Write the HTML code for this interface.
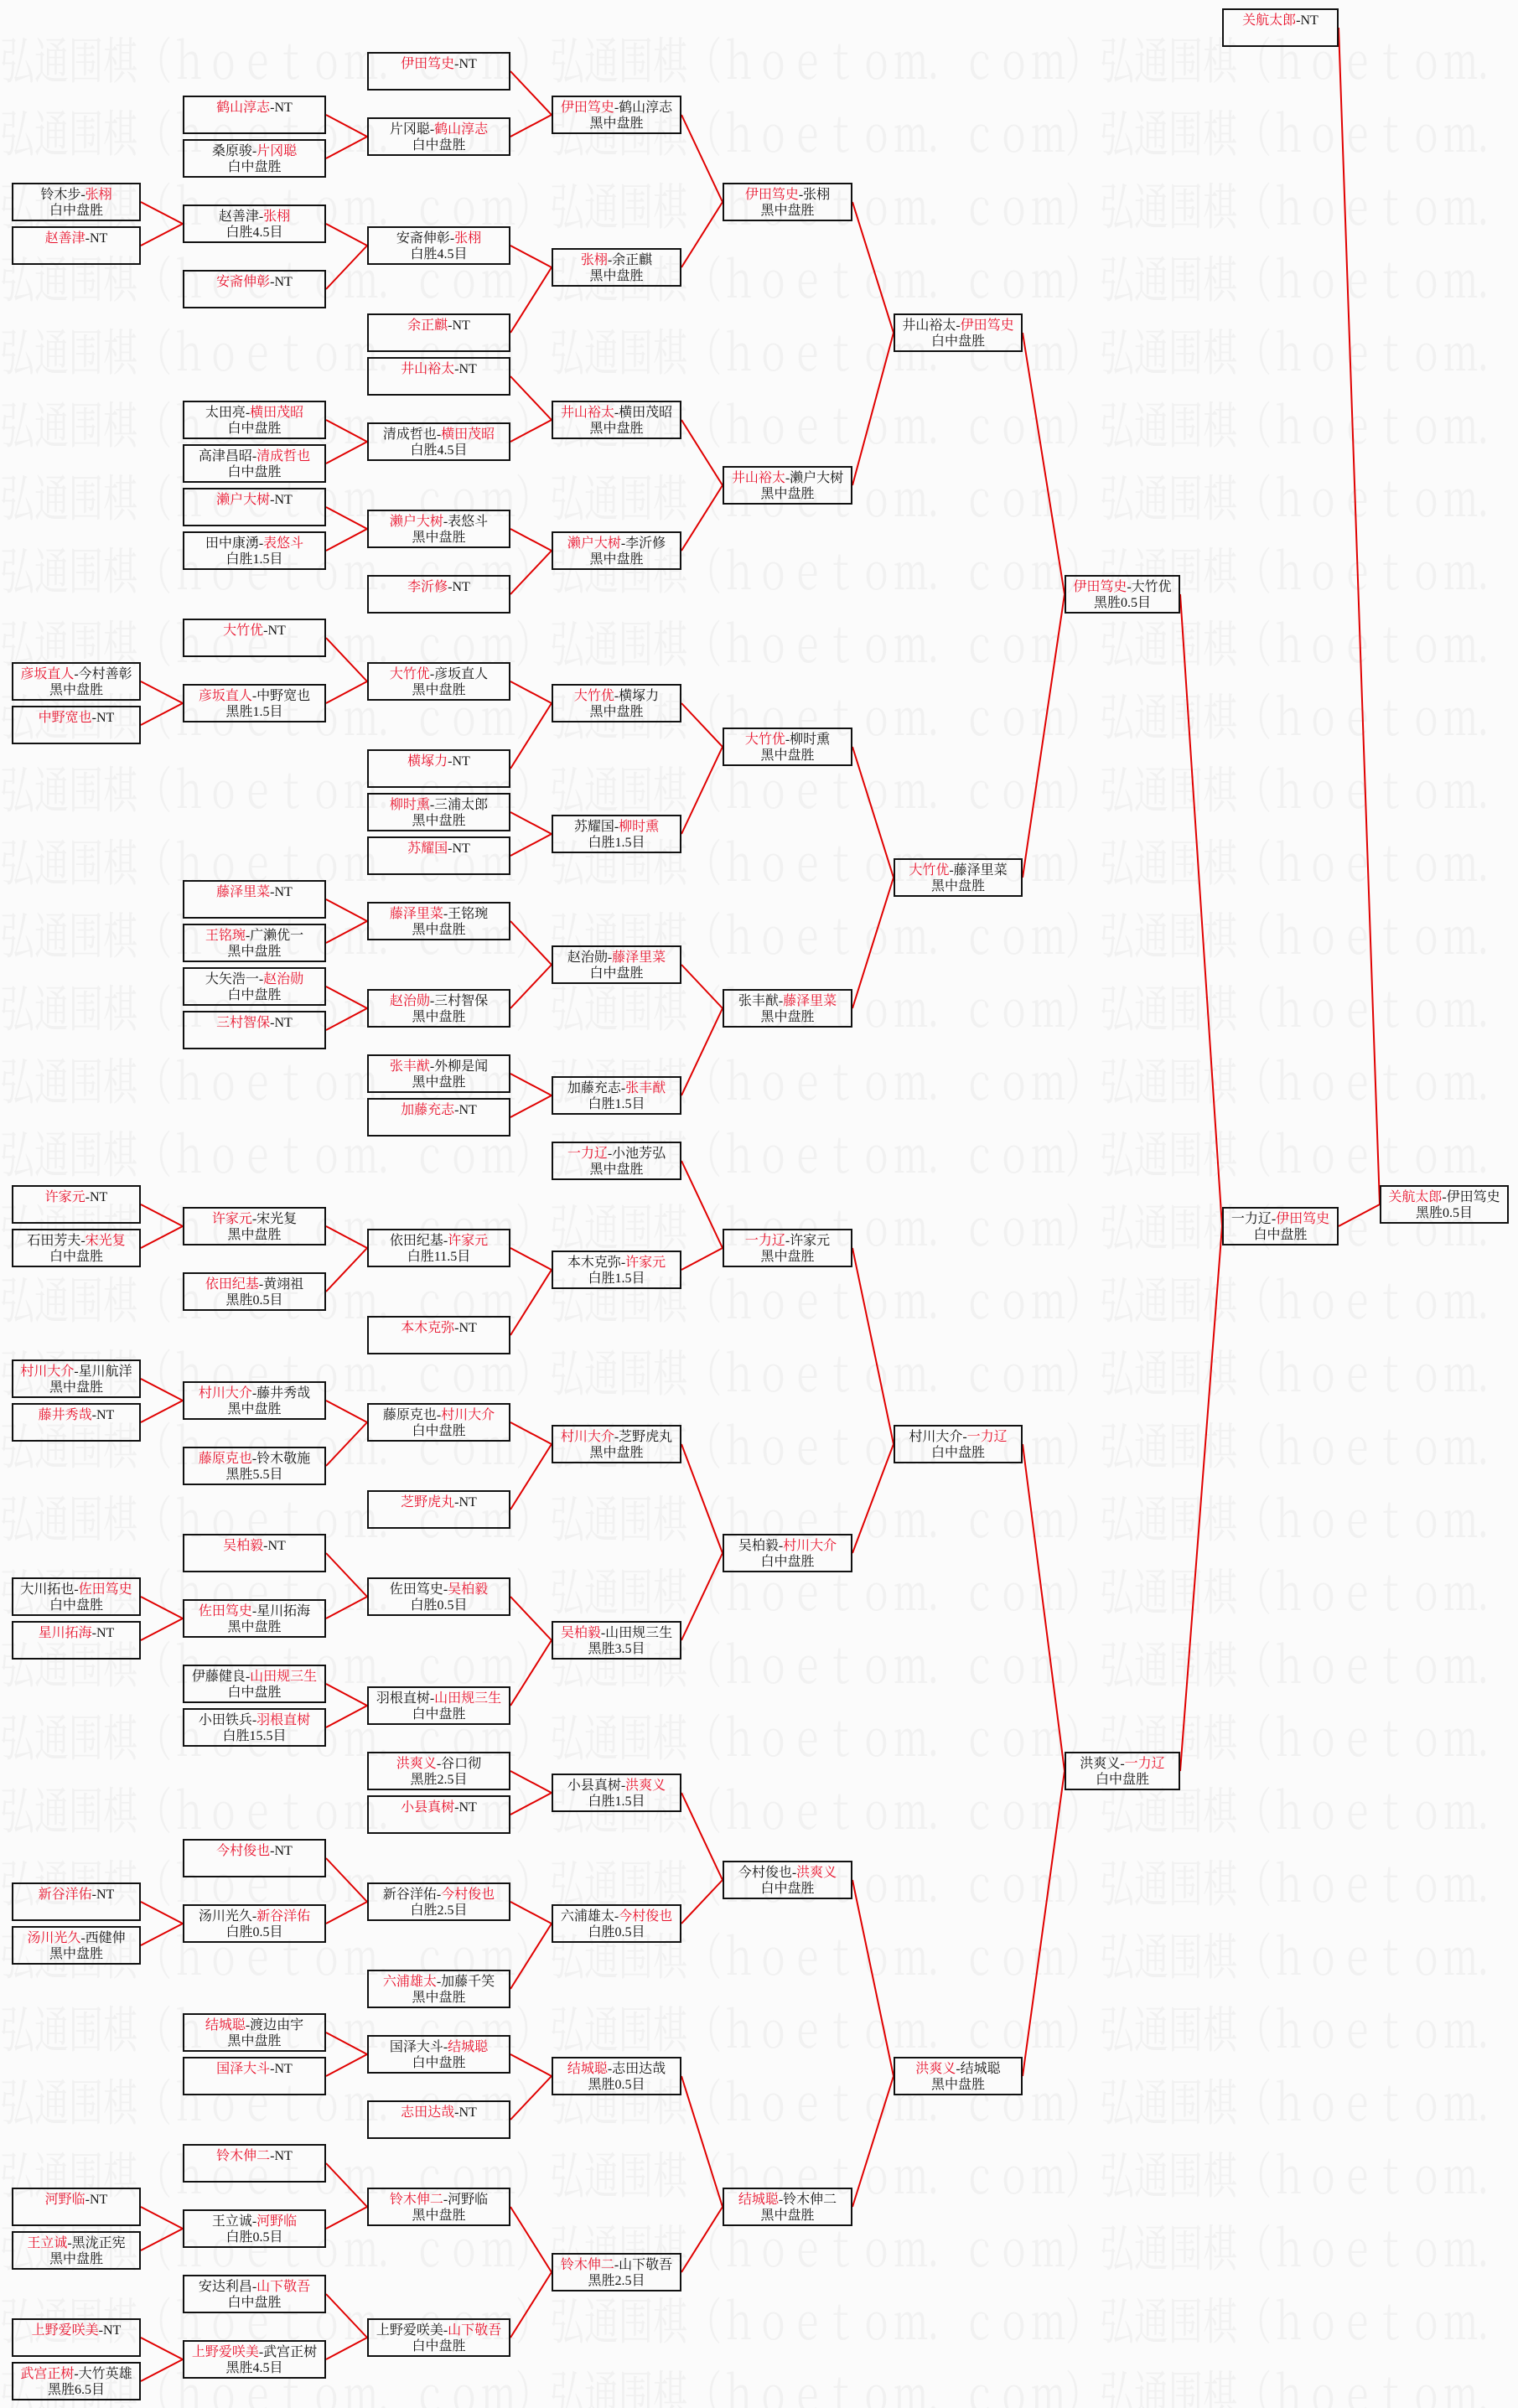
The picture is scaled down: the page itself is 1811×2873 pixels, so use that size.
<!DOCTYPE html>
<html><head><meta charset="utf-8">
<style>
html,body{margin:0;padding:0;}
body{width:1811px;height:2873px;position:relative;background:#fbfbfb;overflow:hidden;font-family:"Liberation Serif","Noto Serif CJK SC","Noto Sans CJK SC",serif;}
.wmw{position:absolute;left:0;top:0;width:1811px;height:2873px;overflow:hidden;}
.wm{position:absolute;left:0;top:26px;width:2400px;color:#f1f1f1;font-size:41px;line-height:60px;white-space:pre;transform-origin:0 0;transform:scaleY(1.45);font-family:"Noto Serif CJK SC","Liberation Serif",serif;}
.b{position:absolute;height:46px;box-sizing:border-box;border:2px solid #111;text-align:center;font-size:16px;line-height:19px;padding-top:3px;color:#111;white-space:nowrap;overflow:hidden;}
.r{color:#e8102a;}
.c0{left:14px;width:154px}.c1{left:218px;width:171px}.c2{left:438px;width:171px}
.c3{left:658px;width:155px}.c4{left:862px;width:155px}.c5{left:1066px;width:154px}
.c6{left:1270px;width:138px}.c7{left:1458px;width:139px}.c8{left:1646px;width:154px}
svg{position:absolute;left:0;top:0;}
</style></head><body>
<div class="wmw"><div class="wm">弘通围棋（ｈｏｅｔｏｍ．ｃｏｍ）弘通围棋（ｈｏｅｔｏｍ．ｃｏｍ）弘通围棋（ｈｏｅｔｏｍ．ｃｏｍ）
弘通围棋（ｈｏｅｔｏｍ．ｃｏｍ）弘通围棋（ｈｏｅｔｏｍ．ｃｏｍ）弘通围棋（ｈｏｅｔｏｍ．ｃｏｍ）
弘通围棋（ｈｏｅｔｏｍ．ｃｏｍ）弘通围棋（ｈｏｅｔｏｍ．ｃｏｍ）弘通围棋（ｈｏｅｔｏｍ．ｃｏｍ）
弘通围棋（ｈｏｅｔｏｍ．ｃｏｍ）弘通围棋（ｈｏｅｔｏｍ．ｃｏｍ）弘通围棋（ｈｏｅｔｏｍ．ｃｏｍ）
弘通围棋（ｈｏｅｔｏｍ．ｃｏｍ）弘通围棋（ｈｏｅｔｏｍ．ｃｏｍ）弘通围棋（ｈｏｅｔｏｍ．ｃｏｍ）
弘通围棋（ｈｏｅｔｏｍ．ｃｏｍ）弘通围棋（ｈｏｅｔｏｍ．ｃｏｍ）弘通围棋（ｈｏｅｔｏｍ．ｃｏｍ）
弘通围棋（ｈｏｅｔｏｍ．ｃｏｍ）弘通围棋（ｈｏｅｔｏｍ．ｃｏｍ）弘通围棋（ｈｏｅｔｏｍ．ｃｏｍ）
弘通围棋（ｈｏｅｔｏｍ．ｃｏｍ）弘通围棋（ｈｏｅｔｏｍ．ｃｏｍ）弘通围棋（ｈｏｅｔｏｍ．ｃｏｍ）
弘通围棋（ｈｏｅｔｏｍ．ｃｏｍ）弘通围棋（ｈｏｅｔｏｍ．ｃｏｍ）弘通围棋（ｈｏｅｔｏｍ．ｃｏｍ）
弘通围棋（ｈｏｅｔｏｍ．ｃｏｍ）弘通围棋（ｈｏｅｔｏｍ．ｃｏｍ）弘通围棋（ｈｏｅｔｏｍ．ｃｏｍ）
弘通围棋（ｈｏｅｔｏｍ．ｃｏｍ）弘通围棋（ｈｏｅｔｏｍ．ｃｏｍ）弘通围棋（ｈｏｅｔｏｍ．ｃｏｍ）
弘通围棋（ｈｏｅｔｏｍ．ｃｏｍ）弘通围棋（ｈｏｅｔｏｍ．ｃｏｍ）弘通围棋（ｈｏｅｔｏｍ．ｃｏｍ）
弘通围棋（ｈｏｅｔｏｍ．ｃｏｍ）弘通围棋（ｈｏｅｔｏｍ．ｃｏｍ）弘通围棋（ｈｏｅｔｏｍ．ｃｏｍ）
弘通围棋（ｈｏｅｔｏｍ．ｃｏｍ）弘通围棋（ｈｏｅｔｏｍ．ｃｏｍ）弘通围棋（ｈｏｅｔｏｍ．ｃｏｍ）
弘通围棋（ｈｏｅｔｏｍ．ｃｏｍ）弘通围棋（ｈｏｅｔｏｍ．ｃｏｍ）弘通围棋（ｈｏｅｔｏｍ．ｃｏｍ）
弘通围棋（ｈｏｅｔｏｍ．ｃｏｍ）弘通围棋（ｈｏｅｔｏｍ．ｃｏｍ）弘通围棋（ｈｏｅｔｏｍ．ｃｏｍ）
弘通围棋（ｈｏｅｔｏｍ．ｃｏｍ）弘通围棋（ｈｏｅｔｏｍ．ｃｏｍ）弘通围棋（ｈｏｅｔｏｍ．ｃｏｍ）
弘通围棋（ｈｏｅｔｏｍ．ｃｏｍ）弘通围棋（ｈｏｅｔｏｍ．ｃｏｍ）弘通围棋（ｈｏｅｔｏｍ．ｃｏｍ）
弘通围棋（ｈｏｅｔｏｍ．ｃｏｍ）弘通围棋（ｈｏｅｔｏｍ．ｃｏｍ）弘通围棋（ｈｏｅｔｏｍ．ｃｏｍ）
弘通围棋（ｈｏｅｔｏｍ．ｃｏｍ）弘通围棋（ｈｏｅｔｏｍ．ｃｏｍ）弘通围棋（ｈｏｅｔｏｍ．ｃｏｍ）
弘通围棋（ｈｏｅｔｏｍ．ｃｏｍ）弘通围棋（ｈｏｅｔｏｍ．ｃｏｍ）弘通围棋（ｈｏｅｔｏｍ．ｃｏｍ）
弘通围棋（ｈｏｅｔｏｍ．ｃｏｍ）弘通围棋（ｈｏｅｔｏｍ．ｃｏｍ）弘通围棋（ｈｏｅｔｏｍ．ｃｏｍ）
弘通围棋（ｈｏｅｔｏｍ．ｃｏｍ）弘通围棋（ｈｏｅｔｏｍ．ｃｏｍ）弘通围棋（ｈｏｅｔｏｍ．ｃｏｍ）
弘通围棋（ｈｏｅｔｏｍ．ｃｏｍ）弘通围棋（ｈｏｅｔｏｍ．ｃｏｍ）弘通围棋（ｈｏｅｔｏｍ．ｃｏｍ）
弘通围棋（ｈｏｅｔｏｍ．ｃｏｍ）弘通围棋（ｈｏｅｔｏｍ．ｃｏｍ）弘通围棋（ｈｏｅｔｏｍ．ｃｏｍ）
弘通围棋（ｈｏｅｔｏｍ．ｃｏｍ）弘通围棋（ｈｏｅｔｏｍ．ｃｏｍ）弘通围棋（ｈｏｅｔｏｍ．ｃｏｍ）
弘通围棋（ｈｏｅｔｏｍ．ｃｏｍ）弘通围棋（ｈｏｅｔｏｍ．ｃｏｍ）弘通围棋（ｈｏｅｔｏｍ．ｃｏｍ）
弘通围棋（ｈｏｅｔｏｍ．ｃｏｍ）弘通围棋（ｈｏｅｔｏｍ．ｃｏｍ）弘通围棋（ｈｏｅｔｏｍ．ｃｏｍ）
弘通围棋（ｈｏｅｔｏｍ．ｃｏｍ）弘通围棋（ｈｏｅｔｏｍ．ｃｏｍ）弘通围棋（ｈｏｅｔｏｍ．ｃｏｍ）
弘通围棋（ｈｏｅｔｏｍ．ｃｏｍ）弘通围棋（ｈｏｅｔｏｍ．ｃｏｍ）弘通围棋（ｈｏｅｔｏｍ．ｃｏｍ）
弘通围棋（ｈｏｅｔｏｍ．ｃｏｍ）弘通围棋（ｈｏｅｔｏｍ．ｃｏｍ）弘通围棋（ｈｏｅｔｏｍ．ｃｏｍ）
弘通围棋（ｈｏｅｔｏｍ．ｃｏｍ）弘通围棋（ｈｏｅｔｏｍ．ｃｏｍ）弘通围棋（ｈｏｅｔｏｍ．ｃｏｍ）
弘通围棋（ｈｏｅｔｏｍ．ｃｏｍ）弘通围棋（ｈｏｅｔｏｍ．ｃｏｍ）弘通围棋（ｈｏｅｔｏｍ．ｃｏｍ）</div></div>

<svg width="1811" height="2873" viewBox="0 0 1811 2873">
<g stroke="#e00000" stroke-width="2" fill="none">
<path d="M168 241L218 267M168 293L218 267M168 813L218 839M168 865L218 839M168 1437L218 1463M168 1489L218 1463M168 1645L218 1671M168 1697L218 1671M168 1905L218 1931M168 1957L218 1931M168 2269L218 2295M168 2321L218 2295M168 2633L218 2659M168 2685L218 2659M168 2789L218 2815M168 2841L218 2815"/>
<path d="M389 137L438 163M389 189L438 163M389 267L438 293M389 345L438 293M389 501L438 527M389 553L438 527M389 605L438 631M389 657L438 631M389 761L438 813M389 839L438 813M389 1073L438 1099M389 1125L438 1099M389 1177L438 1203M389 1229L438 1203M389 1463L438 1489M389 1541L438 1489M389 1671L438 1697M389 1749L438 1697M389 1853L438 1905M389 1931L438 1905M389 2009L438 2035M389 2061L438 2035M389 2217L438 2269M389 2295L438 2269M389 2425L438 2451M389 2477L438 2451M389 2581L438 2633M389 2659L438 2633M389 2737L438 2789M389 2815L438 2789"/>
<path d="M609 85L658 137M609 163L658 137M609 293L658 319M609 397L658 319M609 449L658 501M609 527L658 501M609 631L658 657M609 709L658 657M609 813L658 839M609 917L658 839M609 969L658 995M609 1021L658 995M609 1099L658 1151M609 1203L658 1151M609 1281L658 1307M609 1333L658 1307M609 1489L658 1515M609 1593L658 1515M609 1697L658 1723M609 1801L658 1723M609 1905L658 1957M609 2035L658 1957M609 2113L658 2139M609 2165L658 2139M609 2269L658 2295M609 2373L658 2295M609 2451L658 2477M609 2529L658 2477M609 2633L658 2711M609 2789L658 2711"/>
<path d="M813 137L862 241M813 319L862 241M813 501L862 579M813 657L862 579M813 839L862 891M813 995L862 891M813 1151L862 1203M813 1307L862 1203M813 1385L862 1489M813 1515L862 1489M813 1723L862 1853M813 1957L862 1853M813 2139L862 2243M813 2295L862 2243M813 2477L862 2633M813 2711L862 2633"/>
<path d="M1017 241L1066 397M1017 579L1066 397M1017 891L1066 1047M1017 1203L1066 1047M1017 1489L1066 1723M1017 1853L1066 1723M1017 2243L1066 2477M1017 2633L1066 2477"/>
<path d="M1220 397L1270 709M1220 1047L1270 709M1220 1723L1270 2113M1220 2477L1270 2113"/>
<path d="M1408 709L1458 1463M1408 2113L1458 1463M1597 33L1646 1437M1597 1463L1646 1437"/>
</g></svg>

<!-- column 0 -->
<div class="b c0" style="top:218px">铃木步-<span class="r">张栩</span><br>白中盘胜</div>
<div class="b c0" style="top:270px"><span class="r">赵善津</span>-NT</div>
<div class="b c0" style="top:790px"><span class="r">彦坂直人</span>-今村善彰<br>黑中盘胜</div>
<div class="b c0" style="top:842px"><span class="r">中野宽也</span>-NT</div>
<div class="b c0" style="top:1414px"><span class="r">许家元</span>-NT</div>
<div class="b c0" style="top:1466px">石田芳夫-<span class="r">宋光复</span><br>白中盘胜</div>
<div class="b c0" style="top:1622px"><span class="r">村川大介</span>-星川航洋<br>黑中盘胜</div>
<div class="b c0" style="top:1674px"><span class="r">藤井秀哉</span>-NT</div>
<div class="b c0" style="top:1882px">大川拓也-<span class="r">佐田笃史</span><br>白中盘胜</div>
<div class="b c0" style="top:1934px"><span class="r">星川拓海</span>-NT</div>
<div class="b c0" style="top:2246px"><span class="r">新谷洋佑</span>-NT</div>
<div class="b c0" style="top:2298px"><span class="r">汤川光久</span>-西健伸<br>黑中盘胜</div>
<div class="b c0" style="top:2610px"><span class="r">河野临</span>-NT</div>
<div class="b c0" style="top:2662px"><span class="r">王立诚</span>-黑泷正宪<br>黑中盘胜</div>
<div class="b c0" style="top:2766px"><span class="r">上野爱咲美</span>-NT</div>
<div class="b c0" style="top:2818px"><span class="r">武宫正树</span>-大竹英雄<br>黑胜6.5目</div>

<!-- column 1 -->
<div class="b c1" style="top:114px"><span class="r">鹤山淳志</span>-NT</div>
<div class="b c1" style="top:166px">桑原骏-<span class="r">片冈聪</span><br>白中盘胜</div>
<div class="b c1" style="top:244px">赵善津-<span class="r">张栩</span><br>白胜4.5目</div>
<div class="b c1" style="top:322px"><span class="r">安斋伸彰</span>-NT</div>
<div class="b c1" style="top:478px">太田亮-<span class="r">横田茂昭</span><br>白中盘胜</div>
<div class="b c1" style="top:530px">高津昌昭-<span class="r">清成哲也</span><br>白中盘胜</div>
<div class="b c1" style="top:582px"><span class="r">濑户大树</span>-NT</div>
<div class="b c1" style="top:634px">田中康湧-<span class="r">表悠斗</span><br>白胜1.5目</div>
<div class="b c1" style="top:738px"><span class="r">大竹优</span>-NT</div>
<div class="b c1" style="top:816px"><span class="r">彦坂直人</span>-中野宽也<br>黑胜1.5目</div>
<div class="b c1" style="top:1050px"><span class="r">藤泽里菜</span>-NT</div>
<div class="b c1" style="top:1102px"><span class="r">王铭琬</span>-广濑优一<br>黑中盘胜</div>
<div class="b c1" style="top:1154px">大矢浩一-<span class="r">赵治勋</span><br>白中盘胜</div>
<div class="b c1" style="top:1206px"><span class="r">三村智保</span>-NT</div>
<div class="b c1" style="top:1440px"><span class="r">许家元</span>-宋光复<br>黑中盘胜</div>
<div class="b c1" style="top:1518px"><span class="r">依田纪基</span>-黄翊祖<br>黑胜0.5目</div>
<div class="b c1" style="top:1648px"><span class="r">村川大介</span>-藤井秀哉<br>黑中盘胜</div>
<div class="b c1" style="top:1726px"><span class="r">藤原克也</span>-铃木敬施<br>黑胜5.5目</div>
<div class="b c1" style="top:1830px"><span class="r">吴柏毅</span>-NT</div>
<div class="b c1" style="top:1908px"><span class="r">佐田笃史</span>-星川拓海<br>黑中盘胜</div>
<div class="b c1" style="top:1986px">伊藤健良-<span class="r">山田规三生</span><br>白中盘胜</div>
<div class="b c1" style="top:2038px">小田铁兵-<span class="r">羽根直树</span><br>白胜15.5目</div>
<div class="b c1" style="top:2194px"><span class="r">今村俊也</span>-NT</div>
<div class="b c1" style="top:2272px">汤川光久-<span class="r">新谷洋佑</span><br>白胜0.5目</div>
<div class="b c1" style="top:2402px"><span class="r">结城聪</span>-渡边由宇<br>黑中盘胜</div>
<div class="b c1" style="top:2454px"><span class="r">国泽大斗</span>-NT</div>
<div class="b c1" style="top:2558px"><span class="r">铃木伸二</span>-NT</div>
<div class="b c1" style="top:2636px">王立诚-<span class="r">河野临</span><br>白胜0.5目</div>
<div class="b c1" style="top:2714px">安达利昌-<span class="r">山下敬吾</span><br>白中盘胜</div>
<div class="b c1" style="top:2792px"><span class="r">上野爱咲美</span>-武宫正树<br>黑胜4.5目</div>

<!-- column 2 -->
<div class="b c2" style="top:62px"><span class="r">伊田笃史</span>-NT</div>
<div class="b c2" style="top:140px">片冈聪-<span class="r">鹤山淳志</span><br>白中盘胜</div>
<div class="b c2" style="top:270px">安斋伸彰-<span class="r">张栩</span><br>白胜4.5目</div>
<div class="b c2" style="top:374px"><span class="r">余正麒</span>-NT</div>
<div class="b c2" style="top:426px"><span class="r">井山裕太</span>-NT</div>
<div class="b c2" style="top:504px">清成哲也-<span class="r">横田茂昭</span><br>白胜4.5目</div>
<div class="b c2" style="top:608px"><span class="r">濑户大树</span>-表悠斗<br>黑中盘胜</div>
<div class="b c2" style="top:686px"><span class="r">李沂修</span>-NT</div>
<div class="b c2" style="top:790px"><span class="r">大竹优</span>-彦坂直人<br>黑中盘胜</div>
<div class="b c2" style="top:894px"><span class="r">横塚力</span>-NT</div>
<div class="b c2" style="top:946px"><span class="r">柳时熏</span>-三浦太郎<br>黑中盘胜</div>
<div class="b c2" style="top:998px"><span class="r">苏耀国</span>-NT</div>
<div class="b c2" style="top:1076px"><span class="r">藤泽里菜</span>-王铭琬<br>黑中盘胜</div>
<div class="b c2" style="top:1180px"><span class="r">赵治勋</span>-三村智保<br>黑中盘胜</div>
<div class="b c2" style="top:1258px"><span class="r">张丰猷</span>-外柳是闻<br>黑中盘胜</div>
<div class="b c2" style="top:1310px"><span class="r">加藤充志</span>-NT</div>
<div class="b c2" style="top:1466px">依田纪基-<span class="r">许家元</span><br>白胜11.5目</div>
<div class="b c2" style="top:1570px"><span class="r">本木克弥</span>-NT</div>
<div class="b c2" style="top:1674px">藤原克也-<span class="r">村川大介</span><br>白中盘胜</div>
<div class="b c2" style="top:1778px"><span class="r">芝野虎丸</span>-NT</div>
<div class="b c2" style="top:1882px">佐田笃史-<span class="r">吴柏毅</span><br>白胜0.5目</div>
<div class="b c2" style="top:2012px">羽根直树-<span class="r">山田规三生</span><br>白中盘胜</div>
<div class="b c2" style="top:2090px"><span class="r">洪爽义</span>-谷口彻<br>黑胜2.5目</div>
<div class="b c2" style="top:2142px"><span class="r">小县真树</span>-NT</div>
<div class="b c2" style="top:2246px">新谷洋佑-<span class="r">今村俊也</span><br>白胜2.5目</div>
<div class="b c2" style="top:2350px"><span class="r">六浦雄太</span>-加藤千笑<br>黑中盘胜</div>
<div class="b c2" style="top:2428px">国泽大斗-<span class="r">结城聪</span><br>白中盘胜</div>
<div class="b c2" style="top:2506px"><span class="r">志田达哉</span>-NT</div>
<div class="b c2" style="top:2610px"><span class="r">铃木伸二</span>-河野临<br>黑中盘胜</div>
<div class="b c2" style="top:2766px">上野爱咲美-<span class="r">山下敬吾</span><br>白中盘胜</div>

<!-- column 3 -->
<div class="b c3" style="top:114px"><span class="r">伊田笃史</span>-鹤山淳志<br>黑中盘胜</div>
<div class="b c3" style="top:296px"><span class="r">张栩</span>-余正麒<br>黑中盘胜</div>
<div class="b c3" style="top:478px"><span class="r">井山裕太</span>-横田茂昭<br>黑中盘胜</div>
<div class="b c3" style="top:634px"><span class="r">濑户大树</span>-李沂修<br>黑中盘胜</div>
<div class="b c3" style="top:816px"><span class="r">大竹优</span>-横塚力<br>黑中盘胜</div>
<div class="b c3" style="top:972px">苏耀国-<span class="r">柳时熏</span><br>白胜1.5目</div>
<div class="b c3" style="top:1128px">赵治勋-<span class="r">藤泽里菜</span><br>白中盘胜</div>
<div class="b c3" style="top:1284px">加藤充志-<span class="r">张丰猷</span><br>白胜1.5目</div>
<div class="b c3" style="top:1362px"><span class="r">一力辽</span>-小池芳弘<br>黑中盘胜</div>
<div class="b c3" style="top:1492px">本木克弥-<span class="r">许家元</span><br>白胜1.5目</div>
<div class="b c3" style="top:1700px"><span class="r">村川大介</span>-芝野虎丸<br>黑中盘胜</div>
<div class="b c3" style="top:1934px"><span class="r">吴柏毅</span>-山田规三生<br>黑胜3.5目</div>
<div class="b c3" style="top:2116px">小县真树-<span class="r">洪爽义</span><br>白胜1.5目</div>
<div class="b c3" style="top:2272px">六浦雄太-<span class="r">今村俊也</span><br>白胜0.5目</div>
<div class="b c3" style="top:2454px"><span class="r">结城聪</span>-志田达哉<br>黑胜0.5目</div>
<div class="b c3" style="top:2688px"><span class="r">铃木伸二</span>-山下敬吾<br>黑胜2.5目</div>

<!-- column 4 -->
<div class="b c4" style="top:218px"><span class="r">伊田笃史</span>-张栩<br>黑中盘胜</div>
<div class="b c4" style="top:556px"><span class="r">井山裕太</span>-濑户大树<br>黑中盘胜</div>
<div class="b c4" style="top:868px"><span class="r">大竹优</span>-柳时熏<br>黑中盘胜</div>
<div class="b c4" style="top:1180px">张丰猷-<span class="r">藤泽里菜</span><br>黑中盘胜</div>
<div class="b c4" style="top:1466px"><span class="r">一力辽</span>-许家元<br>黑中盘胜</div>
<div class="b c4" style="top:1830px">吴柏毅-<span class="r">村川大介</span><br>白中盘胜</div>
<div class="b c4" style="top:2220px">今村俊也-<span class="r">洪爽义</span><br>白中盘胜</div>
<div class="b c4" style="top:2610px"><span class="r">结城聪</span>-铃木伸二<br>黑中盘胜</div>

<!-- column 5 -->
<div class="b c5" style="top:374px">井山裕太-<span class="r">伊田笃史</span><br>白中盘胜</div>
<div class="b c5" style="top:1024px"><span class="r">大竹优</span>-藤泽里菜<br>黑中盘胜</div>
<div class="b c5" style="top:1700px">村川大介-<span class="r">一力辽</span><br>白中盘胜</div>
<div class="b c5" style="top:2454px"><span class="r">洪爽义</span>-结城聪<br>黑中盘胜</div>

<!-- column 6 -->
<div class="b c6" style="top:686px"><span class="r">伊田笃史</span>-大竹优<br>黑胜0.5目</div>
<div class="b c6" style="top:2090px">洪爽义-<span class="r">一力辽</span><br>白中盘胜</div>

<!-- column 7 -->
<div class="b c7" style="top:10px"><span class="r">关航太郎</span>-NT</div>
<div class="b c7" style="top:1440px">一力辽-<span class="r">伊田笃史</span><br>白中盘胜</div>

<!-- column 8 -->
<div class="b c8" style="top:1414px"><span class="r">关航太郎</span>-伊田笃史<br>黑胜0.5目</div>
</body></html>
